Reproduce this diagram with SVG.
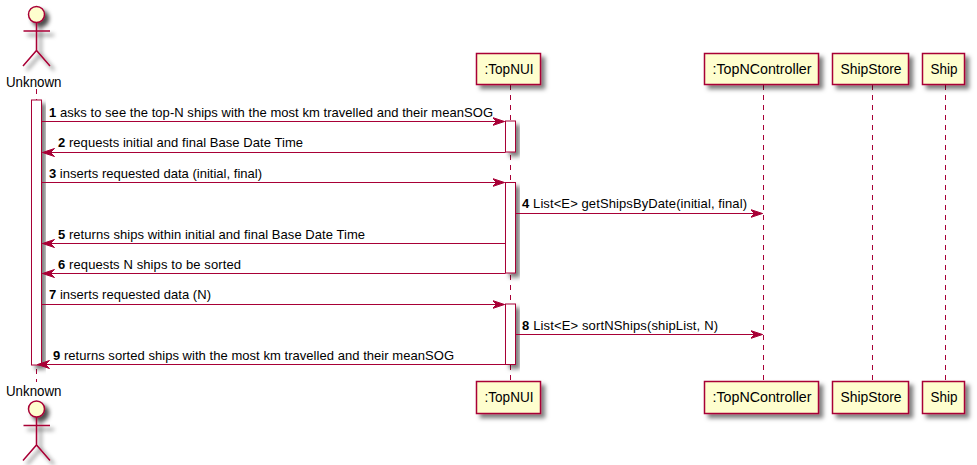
<svg xmlns="http://www.w3.org/2000/svg" width="977" height="465" viewBox="0 0 977 465">
<defs>
<filter id="ds" x="-30%" y="-30%" width="170%" height="170%"><feDropShadow dx="4" dy="4" stdDeviation="2" flood-color="#000" flood-opacity="0.5"/></filter>
<filter id="da" x="-30%" y="-30%" width="170%" height="170%"><feDropShadow dx="4" dy="4" stdDeviation="2" flood-color="#000" flood-opacity="0.7"/></filter>
<marker id="a" markerUnits="userSpaceOnUse" markerWidth="13" markerHeight="12" refX="12" refY="6" orient="auto-start-reverse"><path d="M0,2 L12,6 L0,10 L4,6 Z" fill="#A80036" stroke="#A80036"/></marker>
</defs>
<style>
text{font-family:"Liberation Sans",Arial,sans-serif;font-size:13px;fill:#000}
.n{font-size:14px}
.b{font-weight:bold}
.box,.bar{fill:#FEFECE;stroke:#A80036;stroke-width:1.5;filter:url(#ds)}
.bar{fill:#fff;stroke-width:1}
.ll{stroke:#A80036;stroke-width:1;stroke-dasharray:5,5;fill:none}
.m{stroke:#A80036;stroke-width:1;fill:none;marker-end:url(#a)}
.act{fill:none;stroke:#A80036;stroke-width:1.500}
.head{fill:#FEFECE;stroke:#A80036;stroke-width:1.500}
</style>
<g id="lifelines">
<line class="ll" x1="36.500" y1="89" x2="36.500" y2="382"/>
<line class="ll" x1="510.500" y1="85" x2="510.500" y2="381"/>
<line class="ll" x1="763.500" y1="85" x2="763.500" y2="381"/>
<line class="ll" x1="872.500" y1="85" x2="872.500" y2="381"/>
<line class="ll" x1="945.500" y1="85" x2="945.500" y2="381"/>
</g>
<g id="activations">
<rect class="bar" x="31.500" y="100" width="10" height="265"/>
<rect class="bar" x="505.500" y="121" width="10" height="31"/>
<rect class="bar" x="505.500" y="182.500" width="10" height="90.500"/>
<rect class="bar" x="505.500" y="304" width="10" height="60.500"/>
</g>
<g id="actor-top" filter="url(#da)">
<circle class="head" cx="36.500" cy="14.500" r="8"/>
<path class="act" d="M36.500,22.500V50.500M23.500,31H50M23,66L36.500,50.500L50,66"/>
</g>
<text class="n" x="6" y="87" textLength="55.500" lengthAdjust="spacingAndGlyphs">Unknown</text>
<g id="actor-bottom" filter="url(#da)">
<circle class="head" cx="36.500" cy="409" r="8"/>
<path class="act" d="M36.500,417V445M23.500,425.500H50M23,460.500L36.500,445L50,460.500"/>
</g>
<text class="n" x="6" y="396" textLength="55.500" lengthAdjust="spacingAndGlyphs">Unknown</text>
<g id="topnui-top"><rect class="box" x="476.500" y="53.500" width="64" height="31"/><text class="n" x="484.500" y="74" textLength="49" lengthAdjust="spacingAndGlyphs">:TopNUI</text></g>
<g id="topncontroller-top"><rect class="box" x="704.500" y="53.500" width="114" height="31"/><text class="n" x="712.500" y="74" textLength="99" lengthAdjust="spacingAndGlyphs">:TopNController</text></g>
<g id="shipstore-top"><rect class="box" x="832.500" y="53.500" width="76" height="31"/><text class="n" x="840.500" y="74" textLength="61" lengthAdjust="spacingAndGlyphs">ShipStore</text></g>
<g id="ship-top"><rect class="box" x="922.500" y="53.500" width="42" height="31"/><text class="n" x="930.500" y="74" textLength="27" lengthAdjust="spacingAndGlyphs">Ship</text></g>
<g id="topnui-bottom"><rect class="box" x="476.500" y="381.500" width="64" height="32"/><text class="n" x="484.500" y="402" textLength="49" lengthAdjust="spacingAndGlyphs">:TopNUI</text></g>
<g id="topncontroller-bottom"><rect class="box" x="704.500" y="381.500" width="114" height="32"/><text class="n" x="712.500" y="402" textLength="99" lengthAdjust="spacingAndGlyphs">:TopNController</text></g>
<g id="shipstore-bottom"><rect class="box" x="832.500" y="381.500" width="76" height="32"/><text class="n" x="840.500" y="402" textLength="61" lengthAdjust="spacingAndGlyphs">ShipStore</text></g>
<g id="ship-bottom"><rect class="box" x="922.500" y="381.500" width="42" height="32"/><text class="n" x="930.500" y="402" textLength="27" lengthAdjust="spacingAndGlyphs">Ship</text></g>
<g id="connectors">
<line class="m" x1="41.500" y1="121.500" x2="504.500" y2="121.500"/>
<line class="m" x1="505.500" y1="152.500" x2="42.500" y2="152.500"/>
<line class="m" x1="41.500" y1="182.500" x2="504.500" y2="182.500"/>
<line class="m" x1="515.500" y1="213.500" x2="762.500" y2="213.500"/>
<line class="m" x1="505.500" y1="243.500" x2="42.500" y2="243.500"/>
<line class="m" x1="505.500" y1="273.500" x2="42.500" y2="273.500"/>
<line class="m" x1="41.500" y1="304.500" x2="504.500" y2="304.500"/>
<line class="m" x1="515.500" y1="334.500" x2="762.500" y2="334.500"/>
<line class="m" x1="505.500" y1="364.500" x2="37.500" y2="364.500"/>
</g>
<g id="labels">
<text x="49" y="117" textLength="444"><tspan class="b">1</tspan> asks to see the top-N ships with the most km travelled and their meanSOG</text>
<text x="58" y="147" textLength="245"><tspan class="b">2</tspan> requests initial and final Base Date Time</text>
<text x="49" y="178" textLength="213"><tspan class="b">3</tspan> inserts requested data (initial, final)</text>
<text x="522" y="208" textLength="225"><tspan class="b">4</tspan> List&lt;E&gt; getShipsByDate(initial, final)</text>
<text x="58" y="239" textLength="307"><tspan class="b">5</tspan> returns ships within initial and final Base Date Time</text>
<text x="58" y="269" textLength="183"><tspan class="b">6</tspan> requests N ships to be sorted</text>
<text x="49" y="299" textLength="162"><tspan class="b">7</tspan> inserts requested data (N)</text>
<text x="522" y="330" textLength="196"><tspan class="b">8</tspan> List&lt;E&gt; sortNShips(shipList, N)</text>
<text x="53" y="360" textLength="401"><tspan class="b">9</tspan> returns sorted ships with the most km travelled and their meanSOG</text>
</g>
</svg>
